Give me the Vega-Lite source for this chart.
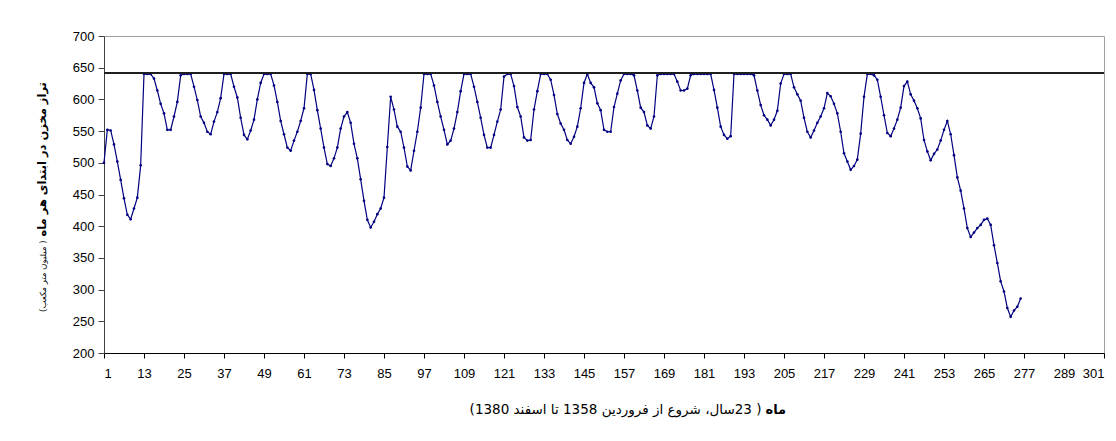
{
  "$schema": "https://vega.github.io/schema/vega-lite/v6.json",
  "width": 1000,
  "height": 317,
  "autosize": "none",
  "padding": {"left": 104, "top": 36, "right": 12, "bottom": 88},
  "background": "white",
  "config": {
    "view": {"stroke": "#a0a0a0", "strokeWidth": 1},
    "axis": {
      "labelFont": "Liberation Sans",
      "labelFontSize": 13,
      "labelColor": "#000000",
      "domainColor": "#404040",
      "tickColor": "#404040",
      "grid": false,
      "titleFont": "DejaVu Sans",
      "titleColor": "#000000"
    }
  },
  "data": {"values": [
    {"m":1,"v":500},{"m":2,"v":552},{"m":3,"v":551},{"m":4,"v":529},{"m":5,"v":502},{"m":6,"v":473},{"m":7,"v":444},{"m":8,"v":418},{"m":9,"v":411},{"m":10,"v":428},{"m":11,"v":445},{"m":12,"v":496},
    {"m":13,"v":640},{"m":14,"v":640},{"m":15,"v":640},{"m":16,"v":633},{"m":17,"v":614},{"m":18,"v":593},{"m":19,"v":578},{"m":20,"v":552},{"m":21,"v":552},{"m":22,"v":573},{"m":23,"v":596},{"m":24,"v":638},
    {"m":25,"v":640},{"m":26,"v":640},{"m":27,"v":640},{"m":28,"v":620},{"m":29,"v":599},{"m":30,"v":573},{"m":31,"v":563},{"m":32,"v":549},{"m":33,"v":545},{"m":34,"v":565},{"m":35,"v":580},{"m":36,"v":602},
    {"m":37,"v":640},{"m":38,"v":640},{"m":39,"v":640},{"m":40,"v":620},{"m":41,"v":603},{"m":42,"v":571},{"m":43,"v":544},{"m":44,"v":537},{"m":45,"v":551},{"m":46,"v":568},{"m":47,"v":600},{"m":48,"v":626},
    {"m":49,"v":640},{"m":50,"v":640},{"m":51,"v":640},{"m":52,"v":622},{"m":53,"v":596},{"m":54,"v":566},{"m":55,"v":545},{"m":56,"v":524},{"m":57,"v":519},{"m":58,"v":535},{"m":59,"v":549},{"m":60,"v":566},
    {"m":61,"v":586},{"m":62,"v":640},{"m":63,"v":640},{"m":64,"v":615},{"m":65,"v":583},{"m":66,"v":554},{"m":67,"v":524},{"m":68,"v":498},{"m":69,"v":495},{"m":70,"v":507},{"m":71,"v":524},{"m":72,"v":554},
    {"m":73,"v":573},{"m":74,"v":580},{"m":75,"v":563},{"m":76,"v":530},{"m":77,"v":507},{"m":78,"v":474},{"m":79,"v":440},{"m":80,"v":410},{"m":81,"v":398},{"m":82,"v":407},{"m":83,"v":419},{"m":84,"v":428},
    {"m":85,"v":445},{"m":86,"v":525},{"m":87,"v":604},{"m":88,"v":584},{"m":89,"v":557},{"m":90,"v":549},{"m":91,"v":524},{"m":92,"v":494},{"m":93,"v":488},{"m":94,"v":519},{"m":95,"v":549},{"m":96,"v":587},
    {"m":97,"v":640},{"m":98,"v":640},{"m":99,"v":640},{"m":100,"v":622},{"m":101,"v":596},{"m":102,"v":573},{"m":103,"v":552},{"m":104,"v":529},{"m":105,"v":535},{"m":106,"v":554},{"m":107,"v":580},{"m":108,"v":613},
    {"m":109,"v":640},{"m":110,"v":640},{"m":111,"v":640},{"m":112,"v":620},{"m":113,"v":596},{"m":114,"v":571},{"m":115,"v":544},{"m":116,"v":524},{"m":117,"v":524},{"m":118,"v":544},{"m":119,"v":565},{"m":120,"v":584},
    {"m":121,"v":636},{"m":122,"v":640},{"m":123,"v":640},{"m":124,"v":621},{"m":125,"v":588},{"m":126,"v":573},{"m":127,"v":540},{"m":128,"v":535},{"m":129,"v":536},{"m":130,"v":584},{"m":131,"v":613},{"m":132,"v":640},
    {"m":133,"v":640},{"m":134,"v":640},{"m":135,"v":631},{"m":136,"v":607},{"m":137,"v":577},{"m":138,"v":562},{"m":139,"v":552},{"m":140,"v":536},{"m":141,"v":530},{"m":142,"v":541},{"m":143,"v":557},{"m":144,"v":586},
    {"m":145,"v":626},{"m":146,"v":640},{"m":147,"v":626},{"m":148,"v":619},{"m":149,"v":594},{"m":150,"v":583},{"m":151,"v":552},{"m":152,"v":549},{"m":153,"v":549},{"m":154,"v":588},{"m":155,"v":609},{"m":156,"v":630},
    {"m":157,"v":640},{"m":158,"v":640},{"m":159,"v":640},{"m":160,"v":638},{"m":161,"v":614},{"m":162,"v":587},{"m":163,"v":580},{"m":164,"v":559},{"m":165,"v":554},{"m":166,"v":573},{"m":167,"v":638},{"m":168,"v":640},
    {"m":169,"v":640},{"m":170,"v":640},{"m":171,"v":640},{"m":172,"v":640},{"m":173,"v":628},{"m":174,"v":614},{"m":175,"v":614},{"m":176,"v":617},{"m":177,"v":638},{"m":178,"v":640},{"m":179,"v":640},{"m":180,"v":640},
    {"m":181,"v":640},{"m":182,"v":640},{"m":183,"v":640},{"m":184,"v":615},{"m":185,"v":587},{"m":186,"v":557},{"m":187,"v":544},{"m":188,"v":538},{"m":189,"v":542},{"m":190,"v":640},{"m":191,"v":640},{"m":192,"v":640},
    {"m":193,"v":640},{"m":194,"v":640},{"m":195,"v":640},{"m":196,"v":638},{"m":197,"v":614},{"m":198,"v":591},{"m":199,"v":575},{"m":200,"v":568},{"m":201,"v":559},{"m":202,"v":568},{"m":203,"v":582},{"m":204,"v":625},
    {"m":205,"v":640},{"m":206,"v":640},{"m":207,"v":640},{"m":208,"v":619},{"m":209,"v":608},{"m":210,"v":598},{"m":211,"v":571},{"m":212,"v":549},{"m":213,"v":540},{"m":214,"v":551},{"m":215,"v":563},{"m":216,"v":573},
    {"m":217,"v":586},{"m":218,"v":610},{"m":219,"v":605},{"m":220,"v":593},{"m":221,"v":578},{"m":222,"v":549},{"m":223,"v":515},{"m":224,"v":502},{"m":225,"v":489},{"m":226,"v":495},{"m":227,"v":505},{"m":228,"v":546},
    {"m":229,"v":604},{"m":230,"v":640},{"m":231,"v":640},{"m":232,"v":638},{"m":233,"v":631},{"m":234,"v":604},{"m":235,"v":575},{"m":236,"v":547},{"m":237,"v":542},{"m":238,"v":554},{"m":239,"v":568},{"m":240,"v":587},
    {"m":241,"v":621},{"m":242,"v":628},{"m":243,"v":608},{"m":244,"v":598},{"m":245,"v":586},{"m":246,"v":570},{"m":247,"v":536},{"m":248,"v":518},{"m":249,"v":504},{"m":250,"v":514},{"m":251,"v":521},{"m":252,"v":535},
    {"m":253,"v":552},{"m":254,"v":566},{"m":255,"v":545},{"m":256,"v":512},{"m":257,"v":477},{"m":258,"v":456},{"m":259,"v":428},{"m":260,"v":397},{"m":261,"v":383},{"m":262,"v":390},{"m":263,"v":397},{"m":264,"v":402},
    {"m":265,"v":410},{"m":266,"v":412},{"m":267,"v":402},{"m":268,"v":370},{"m":269,"v":342},{"m":270,"v":313},{"m":271,"v":297},{"m":272,"v":271},{"m":273,"v":257},{"m":274,"v":267},{"m":275,"v":273},{"m":276,"v":286}
  ]},
  "resolve": {"scale": {"x": "shared", "y": "shared"}, "axis": {"x": "independent", "y": "independent"}},
  "layer": [
    {
      "mark": {"type": "line", "color": "#000080", "strokeWidth": 1.2},
      "encoding": {
        "x": {
          "field": "m", "type": "quantitative",
          "scale": {"domain": [1, 301], "nice": false, "zero": false},
          "axis": {
            "orient": "bottom",
            "values": [1,13,25,37,49,61,73,85,97,109,121,133,145,157,169,181,193,205,217,229,241,253,265,277,289,301],
            "tickSize": 5, "labelPadding": 9, "domainColor": "#000000", "tickColor": "#000000",
            "title": "\u200f( 23سال، شروع از فروردین 1358 تا اسفند 1380)\u200f",
            "titleFontSize": 13.5, "titleFontWeight": "normal",
            "titleAlign": "right", "titleBaseline": "middle", "titleAnchor": null,
            "titleX": 657, "titleY": 56
          }
        },
        "y": {
          "field": "v", "type": "quantitative",
          "scale": {"domain": [200, 700], "nice": false, "zero": false},
          "axis": {
            "orient": "left",
            "values": [200,250,300,350,400,450,500,550,600,650,700],
            "tickSize": 6, "labelPadding": 4,
            "title": "\u200fتراز مخزن در ابتدای هر ماه\u200f",
            "titleFontSize": 11.5, "titleFontWeight": "bold",
            "titleAngle": -90, "titleAlign": "left", "titleBaseline": "middle",
            "titleX": -62, "titleY": 200
          }
        }
      }
    },
    {
      "mark": {"type": "point", "filled": true, "size": 7, "color": "#000080", "opacity": 1},
      "encoding": {
        "x": {
          "field": "m", "type": "quantitative",
          "axis": {
            "orient": "bottom", "labels": false, "ticks": false, "domain": false,
            "title": "ماه", "titleFontSize": 13, "titleFontWeight": "bold",
            "titleAlign": "left", "titleBaseline": "middle",
            "titleX": 661, "titleY": 56
          }
        },
        "y": {"field": "v", "type": "quantitative", "axis": null}
      }
    },
    {
      "mark": {"type": "rule", "color": "#202020", "strokeWidth": 1},
      "encoding": {
        "y": {
          "datum": 642,
          "axis": {
            "orient": "left", "labels": false, "ticks": false, "domain": false,
            "title": "\u200f( میلیون متر مکعب)\u200f", "titleFontSize": 8.5, "titleFontWeight": "normal",
            "titleAngle": -90, "titleAlign": "right", "titleBaseline": "middle",
            "titleX": -62, "titleY": 204
          }
        }
      }
    }
  ]
}
